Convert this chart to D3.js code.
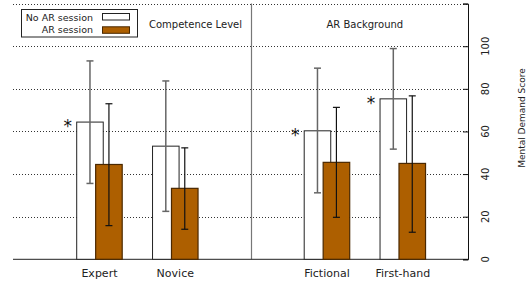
<!DOCTYPE html>
<html>
<head>
<meta charset="utf-8">
<script src="https://cdn.jsdelivr.net/npm/d3@7"></script>
<style>
  body { margin: 0; background: #fff; }
  text { font-family: "DejaVu Sans", sans-serif; fill: #222; }
</style>
</head>
<body>
<script>
// data
let categories = ["Expert", "Novice", "Fictional", "First-hand"];
let catPos     = [1, 2, 4, 5];           // slot 3 is the group separator
let noAR       = [64.4, 53.1, 60.3, 75.3];
let noARLow    = [35.6, 22.5, 31.2, 51.7];
let noARHigh   = [93.1, 83.7, 89.7, 98.9];
let withAR     = [44.5, 33.3, 45.5, 45.0];
let withARLow  = [15.8, 14.1, 19.7, 12.7];
let withARHigh = [73.0, 52.3, 71.3, 76.7];
let signif     = [true, false, true, true];
let yTicks     = [0, 20, 40, 60, 80, 100];
let groups     = [{name: "Competence Level", x: 1.5}, {name: "AR Background", x: 4.5}];

let size = {width: 532, height: 287};
let svg = d3.select("body").append("svg")
    .attr("width", size.width).attr("height", size.height);

let x = d3.scaleLinear().domain([-0.14, 5.86]).range([13, 468]);
let y = d3.scaleLinear().domain([0, 120]).range([259.3, 3.6]);
let barW = x(0.35) - x(0);
let off = 0.125;

// grid
svg.append("g").selectAll("line")
    .data([20, 40, 60, 80, 100, 120]).join("line")
    .attr("x1", x.range()[0]).attr("x2", x.range()[1])
    .attr("y1", d => Math.round(y(d)) + 0.5).attr("y2", d => Math.round(y(d)) + 0.5)
    .attr("stroke", "#333").attr("stroke-width", 1).attr("stroke-dasharray", "1,2");

// separator
svg.append("line")
    .attr("x1", Math.round(x(3)) + 0.5).attr("x2", Math.round(x(3)) + 0.5)
    .attr("y1", y(120)).attr("y2", y(0))
    .attr("stroke", "#777").attr("stroke-width", 1.2);

// bottom line
svg.append("line")
    .attr("x1", x.range()[0]).attr("x2", x.range()[1])
    .attr("y1", y(0)).attr("y2", y(0))
    .attr("stroke", "#222").attr("stroke-width", 1);

let idx = d3.range(categories.length);

function errBars(low, high, dx, color, width) {
  let g = svg.append("g").attr("stroke", color).attr("stroke-width", width);
  idx.forEach(i => {
    let cx = x(catPos[i] + dx);
    g.append("line").attr("x1", cx).attr("x2", cx).attr("y1", y(low[i])).attr("y2", y(high[i]));
    g.append("line").attr("x1", cx - 3.5).attr("x2", cx + 3.5).attr("y1", y(low[i])).attr("y2", y(low[i]));
    g.append("line").attr("x1", cx - 3.5).attr("x2", cx + 3.5).attr("y1", y(high[i])).attr("y2", y(high[i]));
  });
}

// white bars
svg.append("g").selectAll("rect").data(idx).join("rect")
    .attr("x", i => x(catPos[i] - off) - barW / 2)
    .attr("y", i => y(noAR[i]))
    .attr("width", barW)
    .attr("height", i => y(0) - y(noAR[i]))
    .attr("fill", "#fff").attr("stroke", "#222").attr("stroke-width", 1);
errBars(noARLow, noARHigh, -off, "#666", 1.5);

// brown bars
svg.append("g").selectAll("rect").data(idx).join("rect")
    .attr("x", i => x(catPos[i] + off) - barW / 2)
    .attr("y", i => y(withAR[i]))
    .attr("width", barW)
    .attr("height", i => y(0) - y(withAR[i]))
    .attr("fill", "#ad5f00").attr("stroke", "#4a2800").attr("stroke-width", 1.2);
errBars(withARLow, withARHigh, off, "#111", 1.2);

// asterisks
svg.append("g").selectAll("text").data(idx.filter(i => signif[i])).join("text")
    .attr("x", i => x(catPos[i] - off) - barW / 2 - 9)
    .attr("y", i => y(noAR[i]) + 10)
    .attr("text-anchor", "middle").attr("font-size", 17)
    .style("fill", "#111")
    .text("*");

// category labels
svg.append("g").selectAll("text").data(idx).join("text")
    .attr("x", i => x(catPos[i]))
    .attr("y", 277)
    .attr("text-anchor", "middle").attr("font-size", 11)
    .text(i => categories[i]);

// group headers
svg.append("g").selectAll("text").data(groups).join("text")
    .attr("x", (d, i) => i === 0 ? 149 : x(d.x))
    .attr("y", 27.5)
    .attr("text-anchor", (d, i) => i === 0 ? "start" : "middle")
    .attr("font-size", 10)
    .text(d => d.name);

// right axis
let axis = d3.axisLeft(y).tickValues([0, 20, 40, 60, 80, 100, 120]).tickSize(5).tickFormat("");
let ag = svg.append("g").attr("transform", `translate(${x.range()[1]},0)`).call(axis);
ag.select(".domain").attr("stroke", "#111");
ag.selectAll(".tick line").attr("stroke", "#111");

svg.append("g").selectAll("text").data(yTicks).join("text")
    .attr("transform", d => `translate(489,${y(d)}) rotate(-90)`)
    .attr("text-anchor", "middle").attr("font-size", 10)
    .text(d => d);

svg.append("text")
    .attr("transform", `translate(525,118) rotate(-90)`)
    .attr("text-anchor", "middle").attr("font-size", 9)
    .text("Mental Demand Score");

// legend
let lg = svg.append("g");
lg.append("rect").attr("x", 21.5).attr("y", 9.5).attr("width", 116).attr("height", 27.5)
    .attr("fill", "#fff").attr("stroke", "#222");
[["No AR session", "#fff", "#222"], ["AR session", "#ad5f00", "#4a2800"]].forEach((d, i) => {
  lg.append("text").attr("x", 93).attr("y", 20.5 + i * 12).attr("text-anchor", "end")
      .attr("font-size", 9.5).text(d[0]);
  lg.append("rect").attr("x", 102.5).attr("y", 13.5 + i * 13.3).attr("width", 27).attr("height", 6.5)
      .attr("fill", d[1]).attr("stroke", d[2]);
});
</script>
</body>
</html>
